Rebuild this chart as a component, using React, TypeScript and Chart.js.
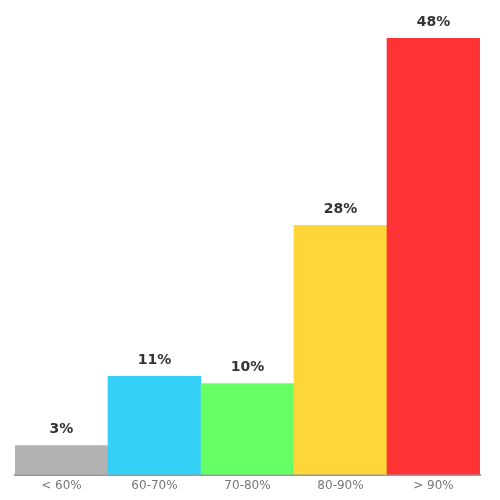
import React, { useEffect, useRef } from 'react';
import { Chart, registerables } from 'chart.js';

Chart.register(...registerables);

const categories = ['< 60%', '60-70%', '70-80%', '80-90%', '> 90%'];
const shares = [3.2, 10.8, 10.0, 27.4, 48.0];
const shareLabels = ['3%', '11%', '10%', '28%', '48%'];
const barColors = ['#b2b2b2', '#36cff8', '#66ff66', '#ffd63a', '#ff3333'];

const valueLabels = {
    id: 'valueLabels',
    afterDatasetsDraw(chart) {
        const ctx = chart.ctx;
        const meta = chart.getDatasetMeta(0);
        ctx.save();
        ctx.font = 'bold 14px "DejaVu Sans"';
        ctx.fillStyle = '#333333';
        ctx.textAlign = 'center';
        ctx.textBaseline = 'middle';
        meta.data.forEach((bar, i) => {
            ctx.fillText(shareLabels[i], bar.x, bar.y - 16);
        });
        ctx.restore();
    }
};

export default function App() {
    const canvasRef = useRef(null);

    useEffect(() => {
        document.body.style.margin = '0';
        const chart = new Chart(canvasRef.current, {
            type: 'bar',
            data: {
                labels: categories,
                datasets: [{
                    data: shares,
                    backgroundColor: barColors,
                    borderWidth: 0,
                    barPercentage: 1,
                    categoryPercentage: 1
                }]
            },
            options: {
                animation: false,
                responsive: true,
                maintainAspectRatio: false,
                layout: {
                    padding: { left: 15, right: 20, top: 38, bottom: 11 }
                },
                plugins: {
                    legend: { display: false },
                    tooltip: { enabled: false }
                },
                scales: {
                    x: {
                        grid: { display: false },
                        border: { display: true, color: '#999999', width: 2 },
                        ticks: {
                            color: '#777777',
                            font: { family: '"DejaVu Sans"', size: 12 },
                            padding: -4
                        }
                    },
                    y: {
                        display: false,
                        min: 0,
                        max: 48
                    }
                }
            },
            plugins: [valueLabels]
        });

        return () => {
            chart.destroy();
        };
    }, []);

    return (
        <div style={{ width: 500, height: 500 }}>
            <canvas ref={canvasRef} />
        </div>
    );
}
